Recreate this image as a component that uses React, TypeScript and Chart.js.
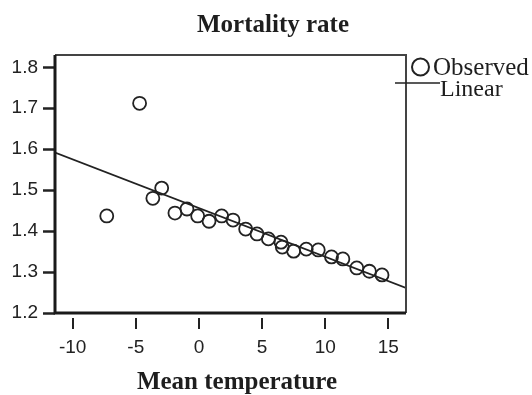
import React, { useEffect, useRef } from "react";
import { Chart, registerables } from "chart.js";

Chart.register(...registerables);

const obsX = [-7.3, -4.7, -3.65, -2.95, -1.9, -0.95, -0.1, 0.8, 1.8, 2.7, 3.7, 4.6, 5.5, 6.5, 6.6, 7.5, 8.5, 9.45, 10.5, 11.4, 12.5, 13.5, 14.5];
const obsY = [1.437, 1.712, 1.48, 1.505, 1.444, 1.454, 1.437, 1.424, 1.437, 1.427, 1.405, 1.393, 1.381, 1.373, 1.361, 1.351, 1.356, 1.354, 1.337, 1.332, 1.31, 1.302, 1.293];
const fitX = [-11.4, 16.4];
const fitY = [1.592, 1.261];
const xTicks = [-10, -5, 0, 5, 10, 15];
const yTicks = [1.2, 1.3, 1.4, 1.5, 1.6, 1.7, 1.8];
const titleText = "Mortality rate";
const xTitle = "Mean temperature";
const legendLabels = ["Observed", "Linear"];

const SERIF = "'Liberation Serif', 'Times New Roman', serif";
const SANS = "'Liberation Sans', Arial, sans-serif";

const decorPlugin = {
  id: "decor",
  afterDatasetsDraw(chart: any) {
    const { ctx, chartArea } = chart;
    const { left, right, top, bottom } = chartArea;
    ctx.save();
    // frame
    ctx.strokeStyle = "#444";
    ctx.lineWidth = 2;
    ctx.beginPath();
    ctx.moveTo(left, top);
    ctx.lineTo(right, top);
    ctx.lineTo(right, bottom);
    ctx.stroke();
    ctx.strokeStyle = "#1a1a1a";
    ctx.lineWidth = 3;
    ctx.beginPath();
    ctx.moveTo(left, top);
    ctx.lineTo(left, bottom);
    ctx.lineTo(right, bottom);
    ctx.stroke();
    // detached x tick marks
    const xs = chart.scales.x;
    ctx.strokeStyle = "#222";
    ctx.lineWidth = 2;
    xTicks.forEach((v) => {
      const px = Math.round(xs.getPixelForValue(v));
      ctx.beginPath();
      ctx.moveTo(px, bottom + 5);
      ctx.lineTo(px, bottom + 16);
      ctx.stroke();
    });
    // titles
    ctx.fillStyle = "#1e1e1e";
    ctx.font = `bold 25px ${SERIF}`;
    ctx.textAlign = "center";
    ctx.textBaseline = "alphabetic";
    ctx.fillText(titleText, 273, 32);
    ctx.fillText(xTitle, 237, 389);
    // legend
    ctx.textAlign = "left";
    ctx.lineWidth = 2;
    ctx.beginPath();
    ctx.arc(420.5, 67, 8.5, 0, Math.PI * 2);
    ctx.stroke();
    ctx.font = `25px ${SERIF}`;
    ctx.fillText(legendLabels[0], 433, 75);
    ctx.lineWidth = 1.5;
    ctx.beginPath();
    ctx.moveTo(395, 83);
    ctx.lineTo(440, 83);
    ctx.stroke();
    ctx.font = `24px ${SERIF}`;
    ctx.fillText(legendLabels[1], 440, 96);
    ctx.restore();
  },
};

export default function App() {
  const ref = useRef<HTMLCanvasElement>(null);
  useEffect(() => {
    if (!ref.current) return;
    const chart = new Chart(ref.current, {
      type: "scatter",
      data: {
        datasets: [
          {
            label: legendLabels[0],
            data: obsX.map((x, i) => ({ x, y: obsY[i] })),
            pointStyle: "circle",
            pointRadius: 6.5,
            pointBorderWidth: 1.8,
            pointBorderColor: "#222",
            pointBackgroundColor: "rgba(0,0,0,0)",
            showLine: false,
          },
          {
            label: legendLabels[1],
            data: fitX.map((x, i) => ({ x, y: fitY[i] })),
            showLine: true,
            borderColor: "#222",
            borderWidth: 1.8,
            pointRadius: 0,
            fill: false,
          },
        ],
      },
      options: {
        responsive: false,
        animation: false,
        layout: { padding: { left: 0, top: 55, right: 126, bottom: 0 } },
        plugins: { legend: { display: false }, title: { display: false }, tooltip: { enabled: false } },
        scales: {
          x: {
            type: "linear",
            min: -11.4,
            max: 16.4,
            afterBuildTicks: (s: any) => { s.ticks = xTicks.map((v) => ({ value: v })); },
            afterFit: (s: any) => { s.height = 82; },
            grid: { drawOnChartArea: false, drawTicks: true, tickLength: 17, tickColor: "rgba(0,0,0,0)" },
            border: { display: false },
            ticks: { color: "#222", padding: 6, font: { family: SANS, size: 19 }, maxRotation: 0 },
          },
          y: {
            type: "linear",
            min: 1.2,
            max: 1.83,
            afterBuildTicks: (s: any) => { s.ticks = yTicks.map((v) => ({ value: v })); },
            afterFit: (s: any) => { s.width = 55; },
            grid: { drawOnChartArea: false, drawTicks: true, tickLength: 12, tickColor: "#222", tickWidth: 2.5 },
            border: { display: false },
            ticks: { color: "#222", padding: 5, font: { family: SANS, size: 19 }, callback: (v: any) => Number(v).toFixed(1) },
          },
        },
      },
      plugins: [decorPlugin],
    });
    return () => chart.destroy();
  }, []);
  return (
    <div style={{ position: "absolute", left: 0, top: 0, width: 532, height: 395, background: "#fff" }}>
      <canvas ref={ref} width={532} height={395} style={{ display: "block" }} />
    </div>
  );
}
